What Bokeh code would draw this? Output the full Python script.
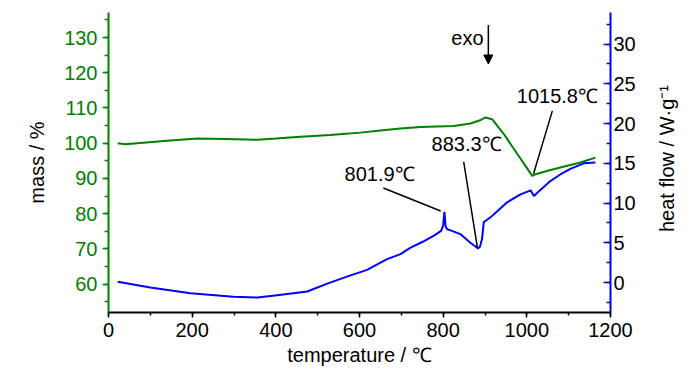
from bokeh.plotting import figure
from bokeh.layouts import row
from bokeh.models import Range1d, LinearAxis, SingleIntervalTicker, Arrow, NormalHead
from bokeh.embed import file_html
from bokeh.resources import INLINE
from bokeh.core.properties import value
import math

# ---- data ----
temp_mass = [22, 40, 90, 140, 212, 280, 356, 400, 459, 530, 602, 650, 698, 746,
             825, 865, 890, 901, 917, 945, 977, 1000, 1013, 1021, 1050, 1080, 1128, 1164]
mass = [100.0, 99.7, 100.2, 100.7, 101.3, 101.2, 100.96, 101.3, 101.8, 102.3, 103.0,
        103.6, 104.2, 104.6, 104.9, 105.6, 106.6, 107.3, 106.8, 102.6, 97.0, 93.0,
        90.7, 91.2, 92.2, 93.1, 94.5, 95.9]

temp_hf = [22, 100, 196, 299, 356, 403, 475, 523, 570, 618, 666, 698, 722, 750, 778,
           795, 800, 803, 806, 810, 821, 841, 865, 878, 883, 888, 893, 897, 905, 913,
           930, 953, 985, 1009, 1017, 1025, 1057, 1080, 1104, 1136, 1164]
heat_flow = [0.09, -0.63, -1.34, -1.80, -1.89, -1.59, -1.13, -0.13, 0.75, 1.6, 2.94,
             3.57, 4.4, 5.1, 5.9, 6.5, 7.2, 8.9, 7.0, 6.7, 6.5, 6.1, 5.0, 4.5, 4.3,
             4.5, 5.5, 7.6, 7.9, 8.2, 9.0, 10.1, 11.1, 11.6, 10.9, 11.3, 12.8, 13.6,
             14.3, 15.0, 15.1]

peak_labels = ["801.9℃", "883.3℃", "1015.8℃"]
right_axis_title = "heat flow / W·g⁻¹"

# annotation placement (temperature, heat-flow axis units)
label_x = [648, 856, 1073]
label_y = [13.7, 17.45, 23.5]
lead_x0 = [657, 849, 1061]
lead_y0 = [11.9, 15.2, 21.6]
lead_x1 = [794, 882, 1016]
lead_y1 = [9.0, 4.36, 13.7]

FONT = "Liberation Sans"
FS = "20px"
GREEN = "#008000"
BLUE = "#0000FF"

p = figure(width=640, height=374, x_range=Range1d(0, 1200), y_range=Range1d(51.94, 137.1),
           output_backend="svg", toolbar_location=None,
           min_border_left=108, min_border_right=30, min_border_top=12, min_border_bottom=62)
p.extra_y_ranges = {"hf": Range1d(-3.77, 33.98)}
p.outline_line_color = None
p.xgrid.visible = False
p.ygrid.visible = False
p.background_fill_color = "white"
p.border_fill_color = "white"

# x axis
xa = p.xaxis[0]
xa.ticker = SingleIntervalTicker(interval=200, num_minor_ticks=2)
xa.axis_label = "temperature / ℃"
xa.axis_line_color = "black"
xa.axis_line_width = 2
xa.major_tick_line_color = "black"
xa.minor_tick_line_color = "black"
xa.major_tick_line_width = 1.5
xa.minor_tick_line_width = 1.5
xa.major_tick_out = 5
xa.major_tick_in = 0
xa.minor_tick_out = 3
xa.minor_tick_in = 0
xa.major_label_standoff = 5
xa.major_label_text_font = FONT
xa.major_label_text_font_size = FS
xa.major_label_text_color = "black"
xa.axis_label_text_font = FONT
xa.axis_label_text_font_size = FS
xa.axis_label_text_font_style = "normal"
xa.axis_label_text_color = "black"
xa.axis_label_standoff = 4

# left axis (mass)
ya = p.yaxis[0]
ya.ticker = SingleIntervalTicker(interval=10, num_minor_ticks=2)
ya.axis_label = "mass / %"
ya.axis_line_color = GREEN
ya.axis_line_width = 2
ya.major_tick_line_color = GREEN
ya.minor_tick_line_color = GREEN
ya.major_tick_line_width = 1.5
ya.minor_tick_line_width = 1.5
ya.major_tick_out = 6
ya.major_tick_in = 0
ya.minor_tick_out = 4
ya.minor_tick_in = 0
ya.major_label_standoff = 5
ya.major_label_text_font = FONT
ya.major_label_text_font_size = FS
ya.major_label_text_color = GREEN
ya.axis_label_text_font = FONT
ya.axis_label_text_font_size = FS
ya.axis_label_text_font_style = "normal"
ya.axis_label_text_color = "black"
ya.axis_label_standoff = 13

# right axis (heat flow)
ra = LinearAxis(y_range_name="hf", ticker=SingleIntervalTicker(interval=5, num_minor_ticks=2))
ra.axis_line_color = BLUE
ra.axis_line_width = 2
ra.major_tick_line_color = BLUE
ra.minor_tick_line_color = BLUE
ra.major_tick_line_width = 1.5
ra.minor_tick_line_width = 1.5
ra.major_tick_out = 0
ra.major_tick_in = 7
ra.minor_tick_out = 0
ra.minor_tick_in = 4
ra.major_label_standoff = 3
ra.major_label_text_font = FONT
ra.major_label_text_font_size = FS
ra.major_label_text_color = "black"
p.add_layout(ra, "right")

# curves
p.line(temp_mass, mass, line_color=GREEN, line_width=2)
p.line(temp_hf, heat_flow, line_color=BLUE, line_width=2, y_range_name="hf")

# annotations
p.segment(x0=lead_x0, y0=lead_y0, x1=lead_x1, y1=lead_y1, y_range_name="hf",
          line_color="black", line_width=1.5)
p.text(x=label_x, y=label_y, text=peak_labels, y_range_name="hf",
       text_font=value(FONT), text_font_size=FS, text_color="black",
       text_align="center", text_baseline="middle")
p.text(x=[858], y=[30.8], text=["exo"], y_range_name="hf",
       text_font=value(FONT), text_font_size=FS, text_color="black",
       text_align="center", text_baseline="middle")
p.add_layout(Arrow(end=NormalHead(size=9, fill_color="black", line_color="black"),
                   x_start=908, y_start=32.4, x_end=908, y_end=27.5,
                   y_range_name="hf", line_color="black", line_width=1.5))

# narrow strip holding the right axis title (reads bottom-to-top, as in the reference)
t = figure(width=60, height=374, x_range=Range1d(0, 60), y_range=Range1d(0, 374),
           output_backend="svg", toolbar_location=None, x_axis_type=None, y_axis_type=None,
           min_border=0)
t.outline_line_color = None
t.background_fill_color = "white"
t.border_fill_color = "white"
t.text(x=[26], y=[192], text=[right_axis_title], angle=math.pi / 2,
       text_font=value(FONT), text_font_size=FS, text_color="black",
       text_align="center", text_baseline="middle")

layout = row(p, t, spacing=0)
open("out.html", "w").write(file_html(layout, INLINE))
